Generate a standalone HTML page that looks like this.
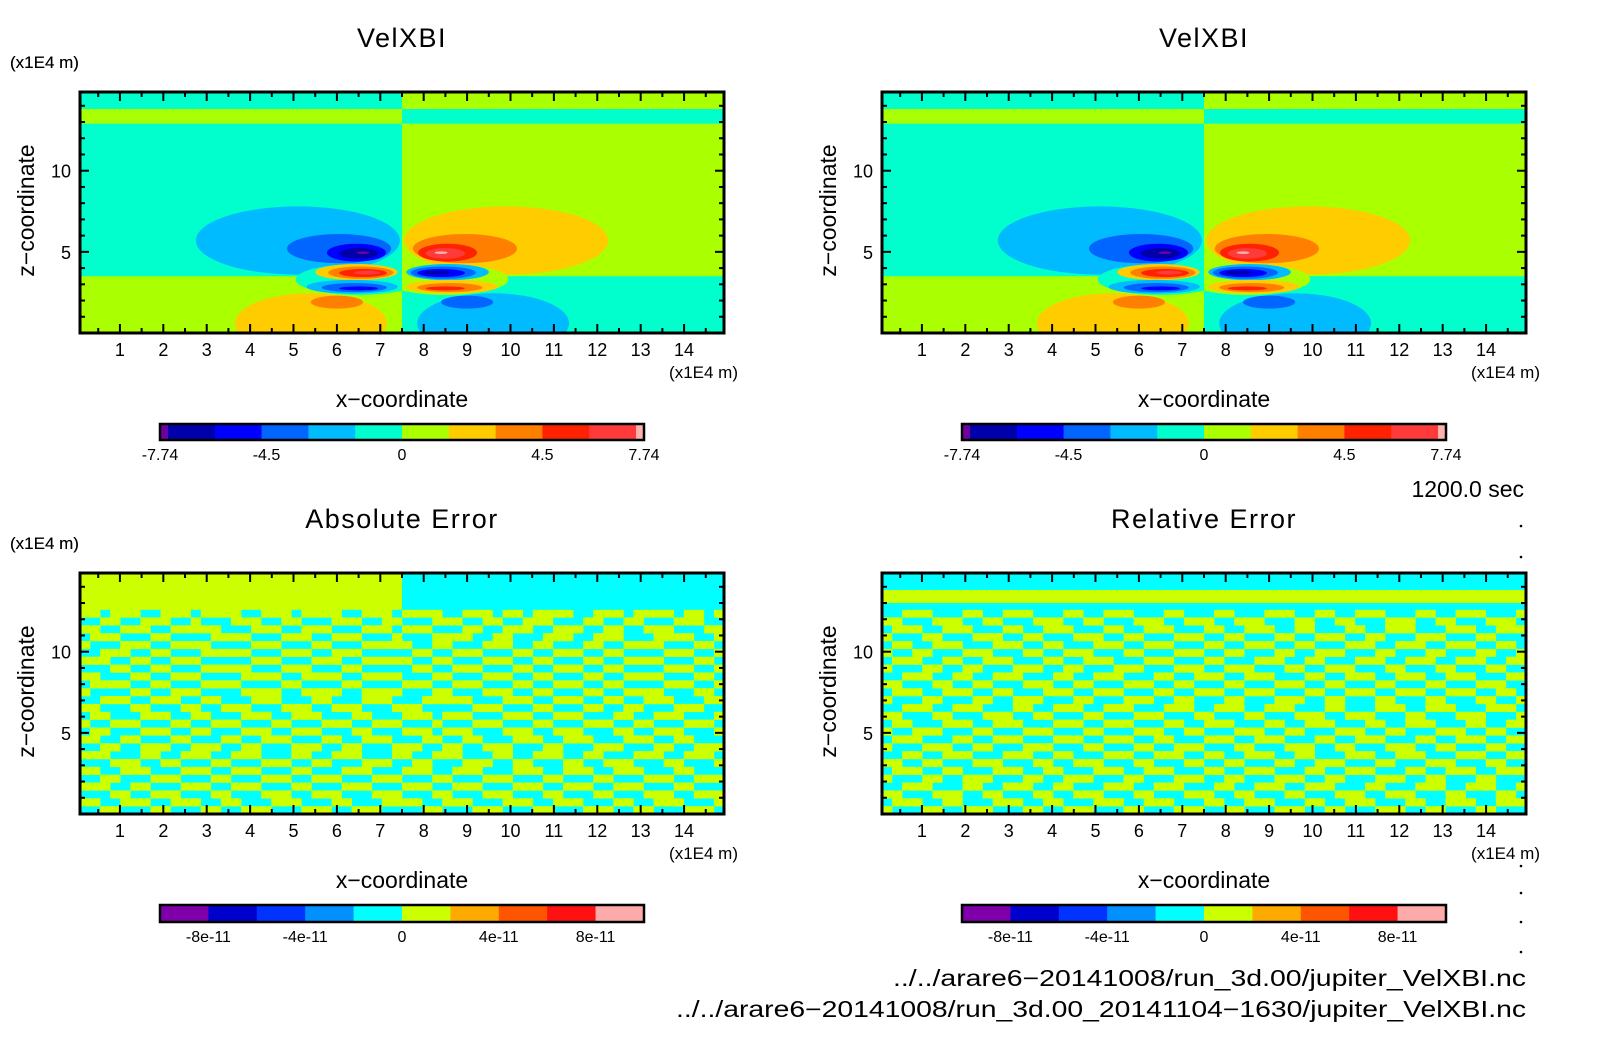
<!DOCTYPE html>
<html><head><meta charset="utf-8">
<style>
html,body{margin:0;padding:0;background:#fff;}
svg{display:block;font-family:"Liberation Sans",sans-serif;}
</style></head>
<body>
<svg id="fig" width="1604" height="1054" viewBox="0 0 1604 1054" xmlns="http://www.w3.org/2000/svg">
<rect x="0" y="0" width="1604" height="1054" fill="#fff"/>
<g id="layer"></g>
</svg>
<script>
// ---- data ----
const xTicks = [1,2,3,4,5,6,7,8,9,10,11,12,13,14];
const yTicks = [5,10];
const velPalette = ["#7000a0","#0000aa","#0000ff","#0066ff","#00bbff","#00ffcc","#aaff00","#ffcc00","#ff8000","#ff2200","#ff3a3a","#ffb0b0"];
const errPalette = ["#7f00aa","#0000cc","#0033ff","#0090ff","#00ffff","#ccff00","#ffaa00","#ff5500","#ff1111","#ffaaaa"];
const velBarLabels = ["-7.74","-4.5","0","4.5","7.74"];
const velBarLabelPos = [0,0.22,0.5,0.79,1];
const errBarLabels = ["-8e-11","-4e-11","0","4e-11","8e-11"];
const errBarLabelPos = [0.1,0.3,0.5,0.7,0.9];
// background bands of VelXBI: [z0, z1, leftColorIdx, rightColorIdx]
const velBands = [[13.8,14.85,5,6],[12.9,13.8,6,5],[3.5,12.9,5,6],[0,3.5,6,5]];
// contour blobs: [cx, cz, rx, rz, colorIdx]
const velBlobs = [
 [5.1,5.7,2.35,2.1,4],[6.05,5.2,1.2,0.9,3],[6.45,4.95,0.68,0.55,2],[6.5,4.9,0.45,0.33,1],[6.6,4.95,0.15,0.08,0],
 [6.5,3.3,1.45,0.95,5],
 [6.45,3.75,0.95,0.5,7],[6.55,3.72,0.75,0.38,8],[6.6,3.7,0.55,0.25,9],[6.7,3.72,0.3,0.12,10],
 [6.35,2.85,1.05,0.42,4],[6.4,2.8,0.75,0.28,3],[6.5,2.75,0.45,0.12,2],
 [5.4,0.6,1.75,1.85,7],[6.0,1.9,0.6,0.4,8],
 [9.9,5.7,2.35,2.1,7],[8.95,5.2,1.2,0.9,8],[8.55,4.95,0.68,0.55,9],[8.5,4.9,0.45,0.33,10],[8.4,4.95,0.15,0.08,11],
 [8.5,3.3,1.45,0.95,6],
 [8.55,3.75,0.95,0.5,4],[8.45,3.72,0.75,0.38,3],[8.4,3.7,0.55,0.25,2],[8.3,3.72,0.3,0.12,1],
 [8.65,2.85,1.05,0.42,7],[8.6,2.8,0.75,0.28,8],[8.5,2.75,0.45,0.12,9],
 [9.6,0.6,1.75,1.85,4],[9.0,1.9,0.6,0.4,3]
];
// absolute error: uniform top region [z0, z1, leftIdx, rightIdx]
const absTop = [[12.6,14.85,5,4]];
const absNoiseTop = 12.6;
const absNoise = [
"1101110011101111001110111100111011110011101101111001110111101101",
"0011001110010001110011000111001100011100110011100011001100011100",
"1100111001111100011100111000111011100011001110011100110011100011",
"0111000110000111100011100111000100011110011000111001110001111001",
"1000111001111000011100011000111110011000111001100011001111000110",
"0011100110001111100011100111000001100111000110011100110000111001",
"1110011001110000011100011100111110011000111001100011001111000110",
"0001100110001111100011100011000001100111000110011100110000111001",
"1100011001110000111100111100111100011000111001100011001111000110",
"0111100110001111000011000011000011100111000110011100110000111001",
"1000011001110000111100111100111100011000111001100011001111000110",
"0011100111001100011100011000111000111110001110011100110011100011",
"1100011000110011100011100111000111000001110001100011001100011100",
"0110001110011000111001110001100011101110001110011100011001110001",
"1001110001100111000110001110011100010001110001100011100110001110",
"0110001110011000111001110001100011101110001110011100011001110001",
"1100110001100011001110001100111000110011000111001110001110011000",
"0011001110011100110001110011000111001100111000110001110001100111",
"1110001100111001110001100111000110011100011001110011000111001110",
"0001110011000110001110011000111001100011100110001100111000110001",
"1100111000111001110001100011100011100111000111001110011100011000",
"0011000111000110001110011100011100011000111000110001100011100111",
"1110011000111001110001100011100011100111000111001110011100011000",
"0001100111000110001110011100011100011000111000110001100011100111",
"1100111001110011000111000110001111001110001110011100011001110001",
"0011000110001100111000111001110000110001110001100011100110001110"
];
// relative error: uniform top bands [z0, z1, leftIdx, rightIdx]
const relTop = [[13.8,14.85,4,4],[13.0,13.8,5,5],[12.6,13.0,4,4]];
const relNoiseTop = 12.6;
const relNoise = [
"0011100011001110001100111000110001100011100110011100011001110001",
"1100011100110001110011000111001110011100011001100011100110001110",
"0111001110001100111000110011100011001110011000110011100011100111",
"1000110001110011000111001100011100110001100111001100011100011000",
"0110011100011100110001110011100011001110011000111001110011100110",
"1001100011100011001110001100011100110001100111000110001100011001",
"0111001100111000110011100011100011000111001100011100111001110011",
"1000110011000111001100011100011100111000110011100011000110001100",
"0011100110011100011001110001100111001110001100111001110011100011",
"1100011001100011100110001110011000110001110011000110001100011100",
"0111001110011000111001110001100111001110001100111001110011100110",
"1000110001100111000110001110011000110001110011000110001100011001",
"0011100111000110011100111000111001110011100011000111001110001110",
"1100011000111001100011000111000110001100011100111000110001110001",
"0110001110011100011100111000110011100011001110001100111000110011",
"1001110001100011100011000111001100011100110001110011000111001100",
"0111000110011100011100111001100011100111000110011100011001110011",
"1000111001100011100011000110011100011000111001100011100110001100",
"0011001110001110011000111001110011001110011000111001110001110011",
"1100110001110001100111000110001100110001100111000110001110001100",
"0111001100011100110001110011100011001110001100111000110011100111",
"1000110011100011001110001100011100110001110011000111001100011000",
"0011100011001110011000111001110001100111001110001100011100111001",
"1100011100110001100111000110001110011000110001110011100011000110",
"0111001100011100110001110011100011001110001100111000110011100111",
"1000110011100011001110001100011100110001110011000111001100011000"
];

// ---- drawing ----
const NS = "http://www.w3.org/2000/svg";
const layer = document.getElementById('layer');
const PW = 644, PH = 241, XMIN = 0.08, XMAX = 14.92, ZMAX = 14.85;
function mk(tag, attrs, parent){
  const e = document.createElementNS(NS, tag);
  for (const k in attrs) e.setAttribute(k, attrs[k]);
  (parent||layer).appendChild(e);
  return e;
}
function txt(str, x, y, size, anchor, parent, extra){
  const t = mk('text', Object.assign({x:x, y:y, 'font-size':size, 'text-anchor':anchor||'middle', fill:'#000'}, extra||{}), parent);
  t.textContent = str;
  return t;
}
let clipN = 0;
function makePanel(px, py, title, kind){
  const xs = v => px + (v - XMIN) / (XMAX - XMIN) * PW;
  const zs = v => py + PH - v / ZMAX * PH;
  const g = mk('g', {});
  
  
  const t = txt(title, px + PW/2, py - 45, 27, 'middle', g, {'letter-spacing': 1.5});
  
  
  const u = txt('(x1E4 m)', 10, py - 24, 17, 'start', g);
  
  
  const id = 'c' + (clipN++);
  const cp = mk('clipPath', {id: id}, g);
  mk('rect', {x: px, y: py, width: PW, height: PH}, cp);
  const plot = mk('g', {'clip-path': 'url(#' + id + ')'}, g);
  
  
  const xm = xs(7.5);
  if (kind === 'vel') {
    velBands.forEach(b => {
      const r1 = mk('rect', {x: px, y: zs(b[1]), width: xm - px, height: zs(b[0]) - zs(b[1]) + 0.5, fill: velPalette[b[2]]}, plot);
      
      
      const r2 = mk('rect', {x: xm, y: zs(b[1]), width: px + PW - xm, height: zs(b[0]) - zs(b[1]) + 0.5, fill: velPalette[b[3]]}, plot);
      
      
    });
    const idL = 'c' + (clipN++), idR = 'c' + (clipN++);
    const cl = mk('clipPath', {id: idL}, g); mk('rect', {x: px, y: py, width: xm - px, height: PH}, cl);
    const cr = mk('clipPath', {id: idR}, g); mk('rect', {x: xm, y: py, width: px + PW - xm, height: PH}, cr);
    const gl = mk('g', {'clip-path': 'url(#' + idL + ')'}, plot);
    const gr = mk('g', {'clip-path': 'url(#' + idR + ')'}, plot);
    velBlobs.forEach(b => {
      const e = mk('ellipse', {cx: xs(b[0]), cy: zs(b[1]), rx: b[2] / (XMAX - XMIN) * PW, ry: b[3] / ZMAX * PH, fill: velPalette[b[4]]}, b[0] < 7.5 ? gl : gr);
      
      
    });
  } else {
    const top = kind === 'abs' ? absTop : relTop;
    const noise = kind === 'abs' ? absNoise : relNoise;
    const ntop = kind === 'abs' ? absNoiseTop : relNoiseTop;
    const bg = mk('rect', {x: px, y: zs(ntop), width: PW, height: zs(0) - zs(ntop), fill: errPalette[4]}, plot);
    
    
    const rh = (zs(0) - zs(ntop)) / noise.length;
    noise.forEach((row, i) => {
      const cw = PW / row.length;
      let s = -1;
      for (let j = 0; j <= row.length; j++) {
        const on = row[j] === '1';
        if (on && s < 0) s = j;
        if (!on && s >= 0) {
          const r = mk('rect', {x: px + s * cw, y: zs(ntop) + i * rh, width: (j - s) * cw + 0.3, height: rh + 0.3, fill: errPalette[5]}, plot);
          
          
          s = -1;
        }
      }
    });
    top.forEach(b => {
      const r1 = mk('rect', {x: px, y: zs(b[1]), width: xm - px + 0.3, height: zs(b[0]) - zs(b[1]) + 0.3, fill: errPalette[b[2]]}, plot);
      
      
      const r2 = mk('rect', {x: xm, y: zs(b[1]), width: px + PW - xm, height: zs(b[0]) - zs(b[1]) + 0.3, fill: errPalette[b[3]]}, plot);
      
      
    });
  }
  for (let v = 0.5; v < 15; v += 0.5) {
    const major = Math.abs(v - Math.round(v)) < 1e-6;
    const L = major ? 9 : 5;
    const X = xs(v);
    if (X <= px || X >= px + PW) continue;
    mk('line', {x1: X, x2: X, y1: py + PH, y2: py + PH - L, stroke: '#000', 'stroke-width': 2}, g);
    mk('line', {x1: X, x2: X, y1: py, y2: py + L, stroke: '#000', 'stroke-width': 2}, g);
  }
  for (let v = 1; v < 15; v++) {
    const L = (v % 5 === 0) ? 9 : 5;
    const Y = zs(v);
    mk('line', {x1: px, x2: px + L, y1: Y, y2: Y, stroke: '#000', 'stroke-width': 2}, g);
    mk('line', {x1: px + PW, x2: px + PW - L, y1: Y, y2: Y, stroke: '#000', 'stroke-width': 2}, g);
  }
  const fr = mk('rect', {x: px, y: py, width: PW, height: PH, fill: 'none', stroke: '#000', 'stroke-width': 3}, g);
  
  
  xTicks.forEach(v => {
    const l = txt(String(v), xs(v), py + PH + 23, 18, 'middle', g);
    
    
  });
  yTicks.forEach(v => {
    const l = txt(String(v), px - 9, zs(v) + 7, 18, 'end', g);
    
    
  });
  const xu = txt('(x1E4 m)', px + PW + 14, py + PH + 45, 17, 'end', g);
  
  
  const xt = txt('x\u2212coordinate', px + PW/2, py + PH + 74, 23, 'middle', g);
  
  
  const yt = txt('z\u2212coordinate', 0, 0, 23, 'middle', g, {transform: 'translate(' + (px - 46) + ',' + (py + PH/2 - 2) + ') rotate(-90)'});
  
  
  const bx = px + 80, bw = 484;
  const cb = mk('g', {}, g);
  
  
  if (kind === 'vel') {
    const by = py + 332, bh = 16, edge = 8;
    const segW = (bw - 2 * edge) / 10;
    for (let i = 0; i < 12; i++) {
      let x0, w;
      if (i === 0) { x0 = bx; w = edge; }
      else if (i === 11) { x0 = bx + bw - edge; w = edge; }
      else { x0 = bx + edge + (i - 1) * segW; w = segW; }
      const r = mk('rect', {x: x0, y: by, width: w + 0.3, height: bh, fill: velPalette[i]}, cb);
      
      
    }
    mk('rect', {x: bx, y: by, width: bw, height: bh, fill: 'none', stroke: '#000', 'stroke-width': 2.5}, cb);
    velBarLabels.forEach((s, i) => {
      const l = txt(s, bx + velBarLabelPos[i] * bw, by + 36, 16, 'middle', cb);
      
      
    });
  } else {
    const by = py + 332, bh = 17;
    const segW = bw / 10;
    for (let i = 0; i < 10; i++) {
      const r = mk('rect', {x: bx + i * segW, y: by, width: segW + 0.3, height: bh, fill: errPalette[i]}, cb);
      
      
    }
    mk('rect', {x: bx, y: by, width: bw, height: bh, fill: 'none', stroke: '#000', 'stroke-width': 2.5}, cb);
    errBarLabels.forEach((s, i) => {
      const l = txt(s, bx + errBarLabelPos[i] * bw, by + 37, 16, 'middle', cb);
      
      
    });
  }
}
makePanel(80, 92, 'VelXBI', 'vel');
makePanel(882, 92, 'VelXBI', 'vel');
makePanel(80, 573, 'Absolute Error', 'abs');
makePanel(882, 573, 'Relative Error', 'rel');

const tm = txt('1200.0 sec', 1524, 497, 23, 'end');


[526, 557, 866, 893, 922, 952].forEach(y => {
  const d = mk('circle', {cx: 1521, cy: y, r: 1.3, fill: '#000'});
  
  
});
const f1 = txt('../../arare6\u221220141008/run_3d.00/jupiter_VelXBI.nc', 1526, 986, 23, 'end', null, {textLength: 633, lengthAdjust: 'spacingAndGlyphs'});


const f2 = txt('../../arare6\u221220141008/run_3d.00_20141104\u22121630/jupiter_VelXBI.nc', 1526, 1017, 23, 'end', null, {textLength: 850, lengthAdjust: 'spacingAndGlyphs'});


</script>
</body></html>
